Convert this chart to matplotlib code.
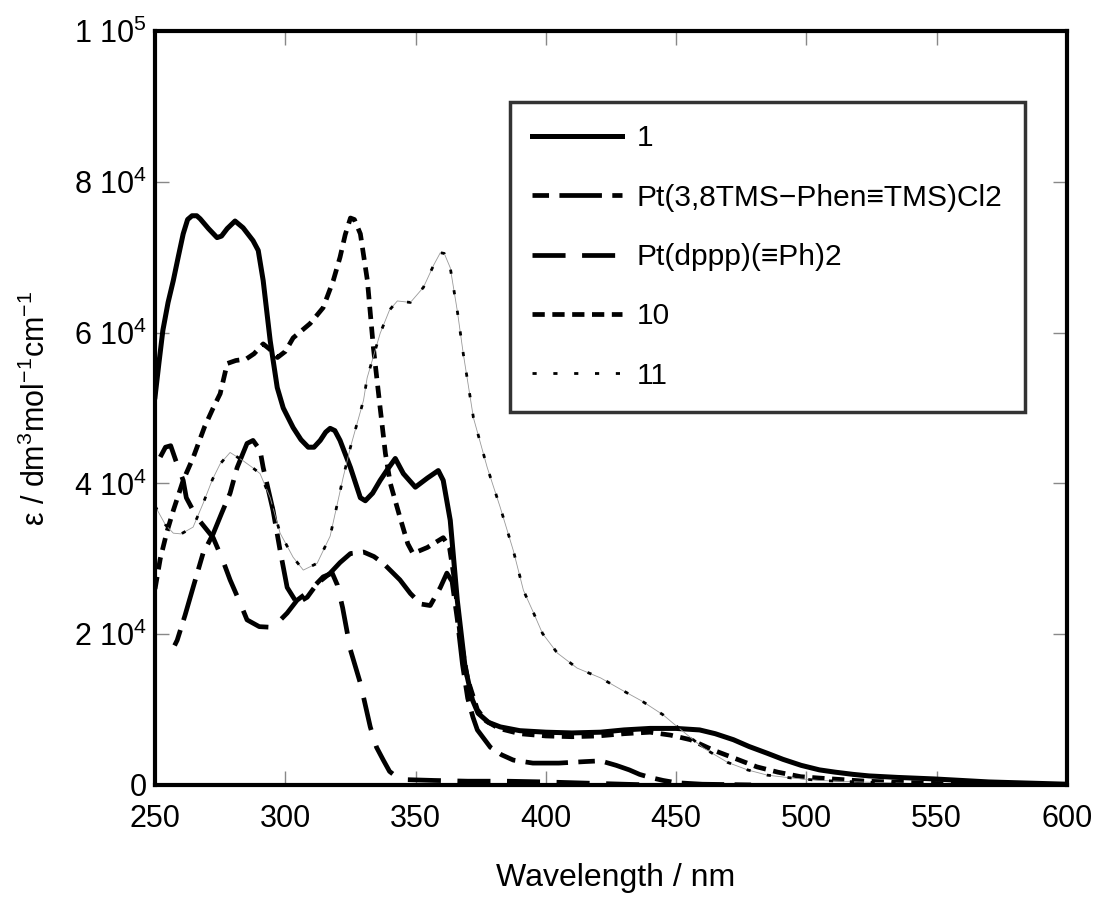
import matplotlib
matplotlib.use("Agg")
import matplotlib.pyplot as plt

plt.rcParams['font.family'] = ['Liberation Sans', 'Noto Sans CJK JP', 'DejaVu Sans']
plt.rcParams['mathtext.fontset'] = 'custom'
plt.rcParams['mathtext.rm'] = 'Liberation Sans'
plt.rcParams['mathtext.it'] = 'Liberation Sans:italic'
plt.rcParams['mathtext.default'] = 'regular'

# series "1"
wl_1 = [250, 251.5, 253, 255, 257, 259, 260.8, 262.5, 264.2, 266, 267.3, 270.5, 273.8,
        275.5, 277.7, 280.7, 283.8, 287.6, 289.6, 291.5, 294.2, 296.9, 299.2, 303, 306,
        308.8, 311, 313.4, 315.5, 317.2, 319, 321, 325, 328.8, 330.7, 333.5, 336.4, 339.5,
        342.2, 345.3, 349.9, 354.5, 358.7, 360.6, 363.3, 366, 369, 371.8, 374, 378, 382.5,
        390, 400, 410, 421, 430, 440, 450, 459, 465, 472, 478, 485, 491, 498, 505, 511,
        518, 524, 535, 549, 570, 600]
eps_1 = [5.15, 5.6, 6.03, 6.4, 6.69, 7.02, 7.31, 7.5, 7.55, 7.55, 7.51, 7.38, 7.26,
         7.28, 7.38, 7.48, 7.39, 7.22, 7.09, 6.69, 5.89, 5.27, 5.0, 4.74, 4.58,
         4.48, 4.48, 4.57, 4.68, 4.73, 4.7, 4.57, 4.21, 3.81, 3.77, 3.87, 4.04, 4.2,
         4.33, 4.13, 3.95, 4.07, 4.17, 4.04, 3.51, 2.45, 1.56, 1.13, 0.95, 0.83, 0.77,
         0.72, 0.70, 0.69, 0.70, 0.73, 0.75, 0.75, 0.73, 0.68, 0.60, 0.51, 0.42, 0.34, 0.26, 0.20, 0.17,
         0.14, 0.12, 0.10, 0.08, 0.04, 0.01]

# Pt(3,8TMS-Phen≡TMS)Cl2
wl_tms = [257.5, 258.5, 261.5, 264.6, 268.4, 272.3, 275.5, 278.8, 281.5, 285.3, 287.6, 290.3,
          291.5, 295.3, 298, 300.7, 304.5, 308.4, 312.2, 317.2, 321, 325, 330, 334, 337.6,
          344, 348, 352, 355.6, 359.5, 362, 364, 366, 368, 370, 372, 373.7, 378.7, 383,
          387.5, 395, 405, 415, 421, 427, 432, 436, 440, 445, 450, 460, 480]
eps_tms = [1.85, 1.92, 2.25, 2.62, 3.07, 3.33, 3.6, 3.87, 4.21, 4.53, 4.57, 4.44,
           4.21, 3.64, 3.11, 2.62, 2.41, 2.49, 2.67, 2.81, 2.95, 3.07, 3.09, 3.03, 2.94,
           2.72, 2.54, 2.4, 2.38, 2.62, 2.81, 2.7, 2.2, 1.6, 1.15, 0.9, 0.73, 0.5, 0.4,
           0.33, 0.29, 0.29, 0.31, 0.32, 0.26, 0.2, 0.14, 0.1, 0.06, 0.03, 0.01, 0.0]

# Pt(dppp)(≡Ph)2
wl_dppp = [252, 254, 256, 258, 260.8, 262, 266, 272.3, 276, 278.8, 282.7, 285.3, 290,
           295.3, 300.7, 304.5, 309.5, 314.5, 318, 320, 322, 325, 328.8, 332.6, 335,
           337.6, 340, 343, 347, 357, 370, 385, 400, 420, 440]
eps_dppp = [4.35, 4.48, 4.5, 4.3, 4.04, 3.81, 3.55, 3.28, 2.98, 2.72, 2.41, 2.19, 2.1,
            2.09, 2.28, 2.45, 2.58, 2.76, 2.81, 2.65, 2.35, 1.79, 1.35, 0.77, 0.5,
            0.33, 0.18, 0.1, 0.07, 0.06, 0.05, 0.05, 0.04, 0.02, 0.0]

# 10
wl_10 = [250, 252, 254.5, 257, 260.8, 264.6, 269, 272.3, 275, 277.7, 281, 285, 288,
         291.5, 294, 297, 300, 303, 309.5, 314.5, 318.4, 321, 323, 325, 326.5, 328.8,
         331.5, 333.8, 336.4, 338.4, 340.3, 344, 347, 349, 354.5, 360.6, 363, 365, 367,
         370, 373.7, 377, 382, 390, 400, 410, 420, 430, 440, 448, 455.5, 464.4, 472,
         481, 489, 497.8, 505.5, 523, 550, 600]
eps_10 = [2.6, 3.0, 3.35, 3.64, 4.04, 4.34, 4.75, 5.0, 5.19, 5.59, 5.63, 5.65, 5.72,
          5.85, 5.78, 5.67, 5.75, 5.93, 6.12, 6.33, 6.69, 7.0, 7.3, 7.52, 7.5, 7.31,
          6.69, 5.8, 5.0, 4.4, 4.0, 3.55, 3.2, 3.07, 3.15, 3.28, 3.15, 2.7, 2.0,
          1.4, 1.0, 0.85, 0.75, 0.68, 0.65, 0.64, 0.65, 0.68, 0.70, 0.66, 0.60, 0.46, 0.36,
          0.24, 0.17, 0.11, 0.09, 0.05, 0.02, 0.0]

# 11
wl_11 = [250, 254, 257, 260, 264.6, 268.4, 272, 275, 278.8, 283.8, 287, 290.3, 294.2,
         298, 303, 306.9, 312.2, 317.2, 322.2, 325, 330, 331.4, 336.4, 340, 343, 348,
         353, 357, 359.5, 361, 363.3, 366, 368.3, 372.2, 377.5, 382.5, 387.5, 391.4,
         394.8, 398.7, 404.4, 412, 421, 428.6, 437, 445, 450.5, 460.5, 469.7, 477.4,
         485, 495, 505, 520, 550, 600]
eps_11 = [3.7, 3.45, 3.34, 3.33, 3.42, 3.73, 4.05, 4.26, 4.41, 4.3, 4.22, 4.13, 3.81,
          3.34, 3.02, 2.85, 2.94, 3.3, 4.08, 4.48, 5.1, 5.4, 5.99, 6.3, 6.42, 6.4,
          6.6, 6.9, 7.06, 7.05, 6.86, 6.29, 5.72, 4.87, 4.21, 3.68, 3.11, 2.58,
          2.32, 2.01, 1.75, 1.55, 1.42, 1.27, 1.11, 0.93, 0.77, 0.49, 0.30, 0.20,
          0.13, 0.09, 0.06, 0.04, 0.01, 0.0]

labels = ['1', 'Pt(3,8TMS\u2212Phen\u2261TMS)Cl2', 'Pt(dppp)(\u2261Ph)2', '10', '11']
yticks = [0, 2e4, 4e4, 6e4, 8e4, 1e5]
ytick_labels = ['0', '2 10$^4$', '4 10$^4$', '6 10$^4$', '8 10$^4$', '1 10$^5$']
xticks = [250, 300, 350, 400, 450, 500, 550, 600]

fig = plt.figure(figsize=(10.95, 8.97), dpi=100)
ax = fig.add_axes([0.1416, 0.1249, 0.8328, 0.8405])

def sc(v):
    return [e * 1e4 for e in v]

ax.plot(wl_1, sc(eps_1), 'k-', lw=3.6, label=labels[0])
ax.plot(wl_tms, sc(eps_tms), color='k', lw=3.4, dashes=(3.5, 2.2, 9, 2.2), label=labels[1])
ax.plot(wl_dppp, sc(eps_dppp), color='k', lw=3.4, dashes=(7, 3.5), label=labels[2])
ax.plot(wl_10, sc(eps_10), color='k', lw=3.4, dashes=(2.6, 1.6), label=labels[3])
# thin grey trace under the dotted curve
ax.plot(wl_11, sc(eps_11), color='#999999', lw=0.6)
ax.plot(wl_11, sc(eps_11), color='k', lw=2.0, dashes=(1.5, 6), label=labels[4])

ax.set_xlim(250, 600)
ax.set_ylim(0, 1e5)
ax.set_xticks(xticks)
ax.set_yticks(yticks)
ax.set_yticklabels(ytick_labels)
ax.tick_params(direction='in', length=10, width=1, color='#888888', top=True, right=True,
               labelsize=22)
ax.tick_params(axis='x', pad=14)
ax.tick_params(axis='y', pad=6)
for s in ax.spines.values():
    s.set_linewidth(3)

ax.set_xlabel('Wavelength / nm', fontsize=23)
ax.xaxis.set_label_coords(0.505, -0.103)
ax.set_ylabel('\u03b5 / dm$^3$mol$^{-1}$cm$^{-1}$', fontsize=22)
ax.yaxis.set_label_coords(-0.113, 0.5)

leg = ax.legend(loc='upper left', bbox_to_anchor=(0.389, 0.906), fontsize=21.5,
                frameon=True, fancybox=False, handlelength=3.0, handletextpad=0.5,
                labelspacing=1.05, borderpad=0.75, borderaxespad=0)
leg.get_frame().set_edgecolor('k')
leg.get_frame().set_linewidth(2.5)

fig.savefig('out.png', dpi=100)
